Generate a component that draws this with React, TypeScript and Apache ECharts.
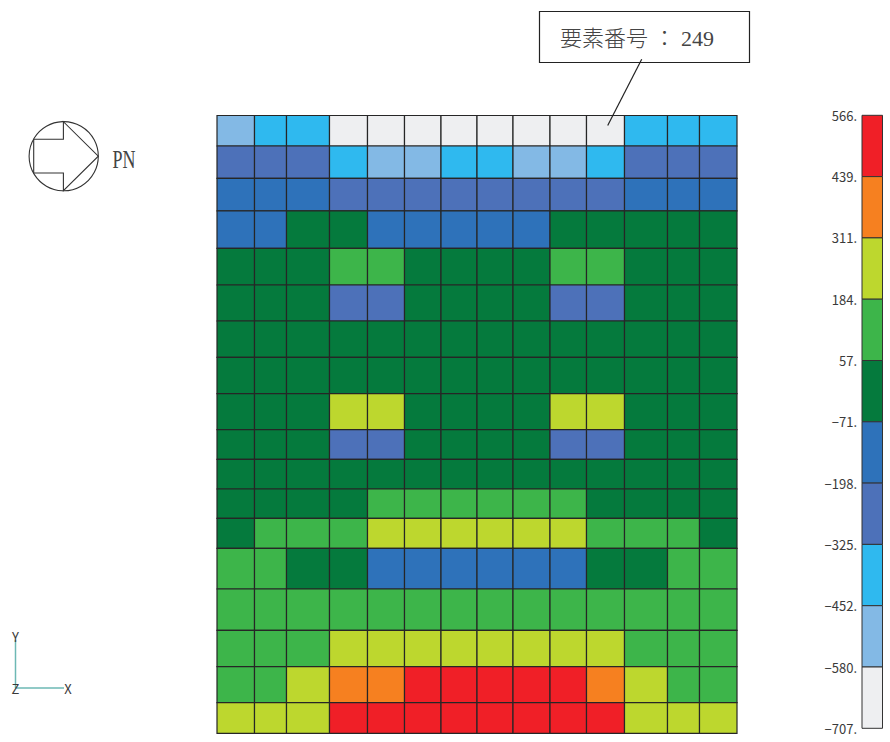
import React, { useEffect, useRef } from "react";
import * as echarts from "echarts";

// Mesh element sizes (non-uniform columns and rows)
const columnWidths = [37.5, 32, 43, 38, 37, 36.5, 36, 36, 37, 36.5, 38, 43, 32, 37.5];
const rowHeights = [30.5, 32.3, 32.5, 37.5, 36.7, 36, 36.3, 36.4, 36, 29.6, 29.7, 29.3, 30, 40.7, 41.3, 36.4, 36, 30.6];

// Contour legend, top to bottom
const legendTicks = [566, 439, 311, 184, 57, -71, -198, -325, -452, -580, -707];
const bandColors = ["#F01F27", "#F68020", "#BDD72E", "#3DB54A", "#057A3D", "#2E72BA", "#4D71B9", "#2FB9EF", "#83B9E5", "#EEEFF1"];

// Estimated element values (the centre of the contour band they show)
const R = 502, O = 375, Y = 248, G = 120, D = -7, B = -135, I = -262, C = -389, L = -516, W = -644;

const row01 = [L, C, C, W, W, W, W, W, W, W, W, C, C, C];
const row02 = [I, I, I, C, L, L, C, C, L, L, C, I, I, I];
const row03 = [B, B, B, I, I, I, I, I, I, I, I, B, B, B];
const row04 = [B, B, D, D, B, B, B, B, B, D, D, D, D, D];
const row05 = [D, D, D, G, G, D, D, D, D, G, G, D, D, D];
const row06 = [D, D, D, I, I, D, D, D, D, I, I, D, D, D];
const row07 = [D, D, D, D, D, D, D, D, D, D, D, D, D, D];
const row08 = [D, D, D, D, D, D, D, D, D, D, D, D, D, D];
const row09 = [D, D, D, Y, Y, D, D, D, D, Y, Y, D, D, D];
const row10 = [D, D, D, I, I, D, D, D, D, I, I, D, D, D];
const row11 = [D, D, D, D, D, D, D, D, D, D, D, D, D, D];
const row12 = [D, D, D, D, G, G, G, G, G, G, D, D, D, D];
const row13 = [D, G, G, G, Y, Y, Y, Y, Y, Y, G, G, G, D];
const row14 = [G, G, D, D, B, B, B, B, B, B, D, D, G, G];
const row15 = [G, G, G, G, G, G, G, G, G, G, G, G, G, G];
const row16 = [G, G, G, Y, Y, Y, Y, Y, Y, Y, Y, G, G, G];
const row17 = [G, G, Y, O, O, R, R, R, R, R, O, Y, G, G];
const row18 = [Y, Y, Y, R, R, R, R, R, R, R, R, Y, Y, Y];
const rows = [row01, row02, row03, row04, row05, row06, row07, row08, row09, row10, row11, row12, row13, row14, row15, row16, row17, row18];

const calloutText = "要素番号 ： 249";
const directionText = "PN";

const cumulate = (sizes: number[]) => sizes.reduce((acc, s) => [...acc, acc[acc.length - 1] + s], [0]);
const xEdges = cumulate(columnWidths);
const yEdges = cumulate(rowHeights);
const bandOf = (v: number) => {
  const i = legendTicks.findIndex((t, k) => k > 0 && v >= t);
  return i < 0 ? bandColors.length - 1 : i - 1;
};

const LINE = "#262626";
const TEAL = "#6DB8B4";
const INK = "#3a3a3a";
const GOTHIC = '"Noto Sans CJK JP", "Liberation Sans Narrow", sans-serif';

export default function App() {
  const ref = useRef<HTMLDivElement>(null);
  useEffect(() => {
    const chart = echarts.init(ref.current!, undefined, { renderer: "svg" });
    const cells: number[][] = [];
    rows.forEach((r, j) => r.forEach((v, i) => cells.push([i, j, v])));
    const bands = bandColors.map((_, i) => [0, i]);

    chart.setOption({
      animation: false,
      backgroundColor: "#fff",
      grid: [
        { left: 217, top: 115.5, width: xEdges[xEdges.length - 1], height: yEdges[yEdges.length - 1] },
        { left: 862, top: 115.3, width: 20.5, height: 613 },
      ],
      xAxis: [
        { type: "value", gridIndex: 0, min: 0, max: xEdges[xEdges.length - 1], show: false },
        { type: "value", gridIndex: 1, min: 0, max: 1, show: false },
      ],
      yAxis: [
        { type: "value", gridIndex: 0, min: 0, max: yEdges[yEdges.length - 1], inverse: true, show: false },
        {
          type: "category",
          gridIndex: 1,
          inverse: true,
          boundaryGap: false,
          data: legendTicks.map((t) => `${t}.`.replace("-", "−")),
          axisLine: { show: false },
          axisTick: { show: false },
          splitLine: { show: false },
          axisLabel: { interval: 0, margin: 5, fontSize: 13, color: INK, fontFamily: GOTHIC },
        },
      ],
      series: [
        {
          type: "custom",
          xAxisIndex: 0,
          yAxisIndex: 0,
          clip: false,
          encode: { x: 0, y: 1 },
          data: cells,
          renderItem: (_p: any, api: any) => {
            const i = api.value(0);
            const j = api.value(1);
            const a = api.coord([xEdges[i], yEdges[j]]);
            const b = api.coord([xEdges[i + 1], yEdges[j + 1]]);
            return {
              type: "rect",
              shape: { x: a[0], y: a[1], width: b[0] - a[0], height: b[1] - a[1] },
              style: { fill: bandColors[bandOf(api.value(2))], stroke: LINE, lineWidth: 1.2 },
            };
          },
        },
        {
          type: "custom",
          xAxisIndex: 1,
          yAxisIndex: 1,
          clip: false,
          encode: { x: 0, y: 1 },
          data: bands,
          renderItem: (_p: any, api: any) => {
            const i = api.value(1);
            const a = api.coord([0, i]);
            const b = api.coord([1, i + 1]);
            return {
              type: "rect",
              shape: { x: a[0], y: a[1], width: b[0] - a[0], height: b[1] - a[1] },
              style: { fill: bandColors[i], stroke: "#333", lineWidth: 1 },
            };
          },
        },
      ],
      graphic: [
        // Direction symbol
        { type: "circle", z: 10, shape: { cx: 63.7, cy: 156.2, r: 34.6 }, style: { fill: "none", stroke: "#333", lineWidth: 1.1 } },
        {
          type: "polygon",
          z: 10,
          shape: { points: [[33.7, 139.3], [63.4, 139.3], [63.4, 121.7], [98.3, 156.2], [63.4, 190.7], [63.4, 173], [33.7, 173]] },
          style: { fill: "none", stroke: "#333", lineWidth: 1.1 },
        },
        {
          type: "text",
          z: 10,
          x: 112.5,
          y: 160,
          scaleX: 0.72,
          style: { text: directionText, fontFamily: '"Liberation Serif", serif', fontSize: 25, fill: "#444", textVerticalAlign: "middle" },
        },
        // Coordinate triad
        { type: "line", z: 10, shape: { x1: 15.5, y1: 640, x2: 15.5, y2: 688 }, style: { stroke: TEAL, lineWidth: 1.5 } },
        { type: "line", z: 10, shape: { x1: 15.5, y1: 688, x2: 64, y2: 688 }, style: { stroke: TEAL, lineWidth: 1.5 } },
        { type: "text", z: 10, x: 15.5, y: 636, style: { text: "Y", fontFamily: GOTHIC, fontSize: 13, fill: INK, textAlign: "center", textVerticalAlign: "middle" } },
        { type: "text", z: 10, x: 15.5, y: 688, style: { text: "Z", fontFamily: GOTHIC, fontSize: 13, fill: INK, textAlign: "center", textVerticalAlign: "middle" } },
        { type: "text", z: 10, x: 68, y: 688, style: { text: "X", fontFamily: GOTHIC, fontSize: 13, fill: INK, textAlign: "center", textVerticalAlign: "middle" } },
        // Callout
        { type: "rect", z: 10, shape: { x: 539.5, y: 11.5, width: 210, height: 51 }, style: { fill: "#fff", stroke: "#222", lineWidth: 1.2 } },
        { type: "line", z: 11, shape: { x1: 641.7, y1: 59.3, x2: 607.7, y2: 125.5 }, style: { stroke: "#222", lineWidth: 1.2 } },
        {
          type: "text",
          z: 12,
          x: 560,
          y: 38,
          style: {
            text: calloutText,
            fontFamily: '"Liberation Serif", "Noto Sans CJK JP", serif',
            fontSize: 22,
            fontWeight: 300,
            fill: "#444",
            textVerticalAlign: "middle",
          },
        },
      ],
    });
    return () => chart.dispose();
  }, []);
  return <div ref={ref} style={{ position: "absolute", left: 0, top: 0, width: 890, height: 742 }} />;
}
